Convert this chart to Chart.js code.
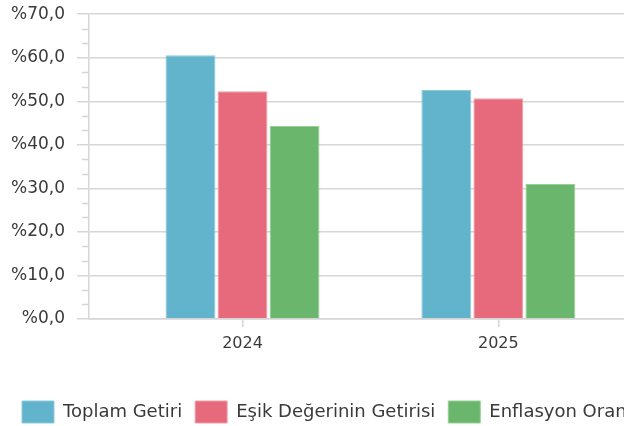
<!DOCTYPE html>
<html>
<head>
<meta charset="utf-8">
<script src="https://cdn.jsdelivr.net/npm/chart.js@4"></script>
<style>
    html, body { margin: 0; padding: 0; background: #fff; overflow: hidden; }
    #wrap { width: 680px; height: 441px; margin-top: -8px; }
</style>
</head>
<body>
<div id="wrap"><canvas id="myChart" width="680" height="441"></canvas></div>
<script>
var years = ["2024", "2025"];
var yearPos = [0, 1];
var seriesNames = ["Toplam Getiri", "Eşik Değerinin Getirisi", "Enflasyon Oranı"];
var toplamGetiri = [60.6, 52.6];
var esikGetiri = [52.3, 50.7];
var enflasyon = [44.3, 31.0];
var colors = ["#62b3cc", "#e66a7c", "#6ab66c"];
var borderColors = ["#8fcadb", "#f0a0ab", "#98cf99"];
var yTicks = [0, 10, 20, 30, 40, 50, 60, 70];

function points(values) {
    return values.map(function (v, i) {
        return { x: yearPos[i], y: v };
    });
}

var gridColor = "#d6d6d6";
var textColor = "#3a3a3a";

// small ticks between the labelled ones on the y axis
var minorTicks = {
    id: "minorTicks",
    afterDraw: function (chart) {
        var ctx = chart.ctx;
        var y = chart.scales.y;
        ctx.save();
        ctx.strokeStyle = gridColor;
        ctx.lineWidth = 1.5;
        for (var i = 0; i < yTicks.length - 1; i++) {
            var step = (yTicks[i + 1] - yTicks[i]) / 3;
            for (var k = 1; k < 3; k++) {
                var py = Math.round(y.getPixelForValue(yTicks[i] + step * k)) + 0.5;
                ctx.beginPath();
                ctx.moveTo(y.right - 7, py);
                ctx.lineTo(y.right, py);
                ctx.stroke();
            }
        }
        ctx.restore();
    }
};

document.addEventListener("DOMContentLoaded", function () {
    var ctx = document.getElementById("myChart").getContext("2d");
    var datasets = [toplamGetiri, esikGetiri, enflasyon].map(function (vals, i) {
        return {
            label: seriesNames[i],
            data: points(vals),
            backgroundColor: colors[i],
            borderColor: borderColors[i],
            borderWidth: 1,
            categoryPercentage: 0.61,
            barPercentage: 0.96
        };
    });

    new Chart(ctx, {
        type: "bar",
        data: { datasets: datasets },
        plugins: [minorTicks],
        options: {
            responsive: false,
            animation: false,
            layout: { autoPadding: false, padding: { left: 9, top: 5, right: 0, bottom: 0 } },
            scales: {
                x: {
                    type: "linear",
                    min: -0.6,
                    max: 1.71,
                    offset: false,
                    afterBuildTicks: function (axis) {
                        axis.ticks = yearPos.map(function (v) { return { value: v }; });
                    },
                    afterFit: function (axis) { axis.height = 69; },
                    ticks: {
                        autoSkip: false,
                        maxRotation: 0,
                        padding: 7,
                        color: textColor,
                        font: { family: "DejaVu Sans", size: 16 },
                        callback: function (v) { return years[yearPos.indexOf(v)]; }
                    },
                    grid: { offset: false, drawOnChartArea: false, tickLength: 8, color: gridColor, lineWidth: 1.5 },
                    border: { color: gridColor, width: 1.5 }
                },
                y: {
                    min: 0,
                    max: 70,
                    afterBuildTicks: function (axis) {
                        axis.ticks = yTicks.map(function (v) { return { value: v }; });
                    },
                    afterFit: function (axis) { axis.width = 80; },
                    ticks: {
                        padding: 12,
                        color: textColor,
                        font: { family: "DejaVu Sans", size: 17 },
                        callback: function (v) { return "%" + v.toFixed(1).replace(".", ","); }
                    },
                    grid: { tickLength: 12, color: gridColor, lineWidth: 1.5 },
                    border: { color: gridColor, width: 1.5 }
                }
            },
            plugins: {
                legend: {
                    position: "bottom",
                    align: "start",
                    labels: {
                        boxWidth: 32,
                        boxHeight: 22,
                        padding: 13,
                        color: textColor,
                        font: { family: "DejaVu Sans", size: 18 }
                    }
                },
                tooltip: { enabled: false }
            }
        }
    });
});
</script>
</body>
</html>
